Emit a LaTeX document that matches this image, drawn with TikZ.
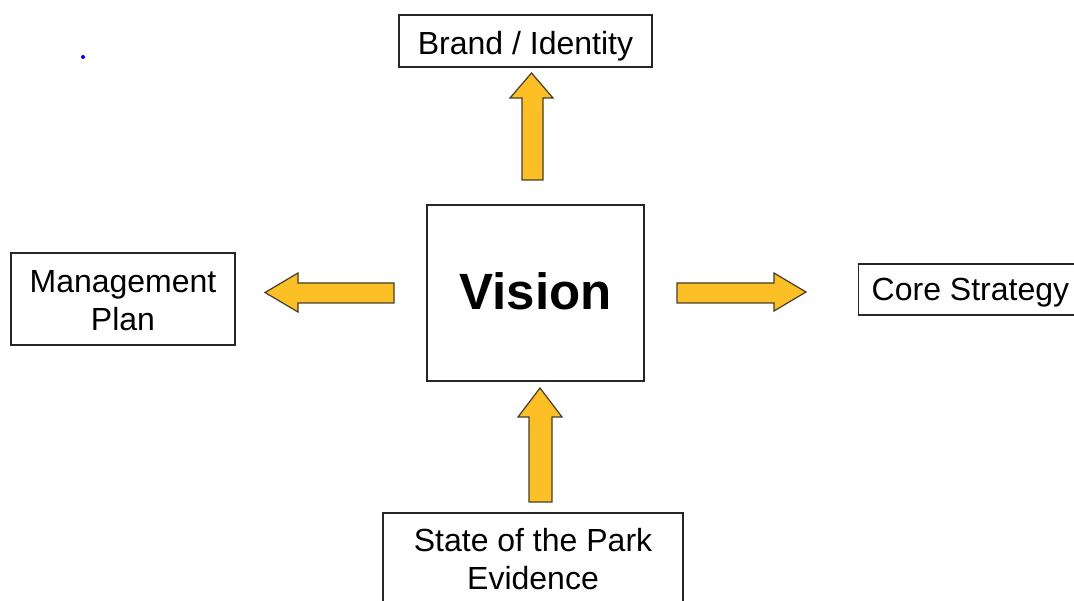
\documentclass[tikz,border=0pt]{standalone}
\usepackage{fontspec}
\setmainfont{Liberation Sans}
\definecolor{arrowfill}{RGB}{252,191,38}
\definecolor{arrowline}{RGB}{70,60,40}
\newcommand\txtshift[2]{\raisebox{#1}[\height][\depth]{#2}}
\tikzset{
  box/.style={draw=black!85, line width=1.4pt, fill=white, align=center, inner sep=0pt,
    font=\fontsize{32}{38}\selectfont},
  blockarrow/.style={fill=arrowfill, draw=arrowline, line width=1.2pt, line join=miter}
}
\begin{document}
\begin{tikzpicture}[x=1pt,y=-1pt]
\useasboundingbox (0,0) rectangle (1074,601);
\begin{scope}
\clip (0,0) rectangle (1074,601);
\node[box, minimum width=253pt, minimum height=52pt] (brand) at (525.5,41) {\txtshift{-5pt}{Brand / Identity}};
\node[box, minimum width=217pt, minimum height=176pt, font=\fontsize{51}{60}\selectfont\bfseries] (vision) at (535.5,293) {\txtshift{2pt}{Vision}};
\node[box, minimum width=224pt, minimum height=92pt] (mgmt) at (123,299) {\txtshift{-1.5pt}{Management}\\\txtshift{-1.5pt}{Plan}};
\node[box, minimum height=51pt, anchor=west, inner xsep=13pt] (core) at (858,289.5) {\txtshift{-3pt}{Core Strategy}\hspace*{20pt}};
\node[box, minimum width=300pt, minimum height=92pt] (state) at (533,559) {State of the Park\\Evidence};
% up arrow to Brand
\draw[blockarrow] (522,180) -- (522,98) -- (510,98) -- (531.5,73) -- (553,98) -- (543,98) -- (543,180) -- cycle;
% up arrow from State to Vision
\draw[blockarrow] (529,502) -- (529,417) -- (518,417) -- (540,388) -- (562,417) -- (552,417) -- (552,502) -- cycle;
% left arrow to Management
\draw[blockarrow] (394,283) -- (298,283) -- (298,273) -- (265,292.5) -- (298,312) -- (298,303) -- (394,303) -- cycle;
% right arrow to Core
\draw[blockarrow] (677,283) -- (774,283) -- (774,273) -- (806,292) -- (774,311) -- (774,303) -- (677,303) -- cycle;
\fill[blue] (83,57) circle (2);
\end{scope}
\end{tikzpicture}
\end{document}
